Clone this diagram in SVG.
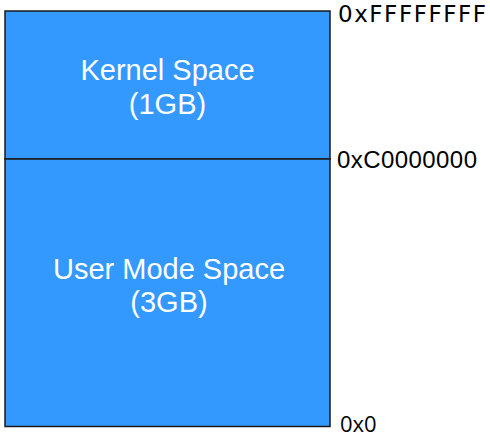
<svg xmlns="http://www.w3.org/2000/svg" width="490" height="437" viewBox="0 0 490 437">
<style>
.box{fill:#3399FF;stroke:#1a1a1a;stroke-width:1.5}
.lbl{font-family:"Liberation Sans",Arial,sans-serif;font-size:29px;fill:#ffffff;text-anchor:middle}
.addr{fill:#000000}
</style>
<rect width="490" height="437" fill="#ffffff"/>
<g id="kernel-space">
<rect class="box" x="5" y="11" width="325" height="148"/>
<text class="lbl" x="167.5" y="79.5">Kernel Space</text>
<text class="lbl" x="167.5" y="114">(1GB)</text>
</g>
<g id="user-space">
<rect class="box" x="5" y="159" width="325" height="267.5"/>
<text class="lbl" x="169" y="278.5">User Mode Space</text>
<text class="lbl" x="169" y="312">(3GB)</text>
</g>
<g id="addresses">
<text class="addr" x="338" y="21.5" font-family="'DejaVu Sans',sans-serif" font-size="23" textLength="148" lengthAdjust="spacing">0xFFFFFFFF</text>
<text class="addr" x="337" y="168.3" font-family="'Liberation Sans',Arial,sans-serif" font-size="24" textLength="140" lengthAdjust="spacing">0xC0000000</text>
<text class="addr" x="340" y="431.5" font-family="'Open Sans','DejaVu Sans',sans-serif" font-size="22">0x0</text>
</g>
<g id="connectors"></g>
</svg>
